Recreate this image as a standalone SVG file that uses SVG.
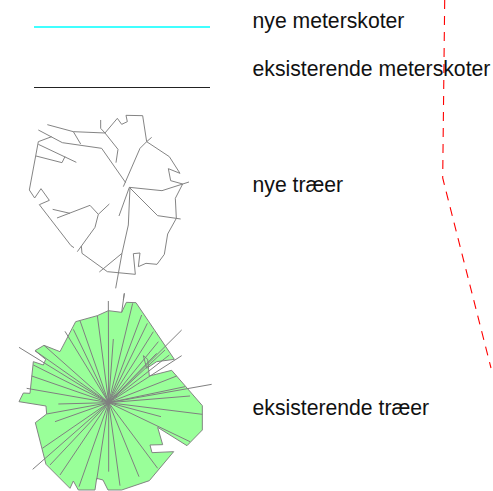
<svg xmlns="http://www.w3.org/2000/svg" width="493" height="491" viewBox="0 0 493 491">
<style>
text{font-family:"Liberation Sans",Arial,sans-serif;font-size:21.2px;fill:#111}
.t{fill:none;stroke:#808080;stroke-width:2.9;stroke-linejoin:round}
.s{fill:none;stroke:#808080;stroke-width:3}
</style>
<rect width="493" height="491" fill="#fff"/>
<g id="connectors">
<line x1="34" y1="27" x2="210" y2="27" stroke="#00ffff" stroke-width="1.4"/>
<line x1="34" y1="87.5" x2="210" y2="87.5" stroke="#222" stroke-width="1"/>
<polyline points="444.7,0 442.7,178 491,368" fill="none" stroke="#ff0000" stroke-width="1.1" stroke-dasharray="9 7"/>
</g>
<g id="label-nye-meterskoter"><text x="252.5" y="28.3">nye meterskoter</text></g>
<g id="label-eksisterende-meterskoter"><text x="252.5" y="75.7">eksisterende meterskoter</text></g>
<g id="label-nye-traeer"><text x="252.5" y="192">nye træer</text></g>
<g id="label-eksisterende-traeer"><text x="252.5" y="414.7">eksisterende træer</text></g>
<g id="nye-traeer" transform="translate(10 90) scale(.33333)">
<path class="t" d="M112 104 190 125 285 129 322 85 335 103 352 95 348 76 398 77 410 155 478 200 510 250 475 236 482 272 518 282 496 325 499 385 473 432 463 493 441 523 408 520 385 530 390 489 370 491 376 553 292 545 216 490 214 468"/>
<path class="t" d="M190 125 212 162M85 120 157 158 275 175 347 278M125 140 85 155 58 300 74 324 93 296 118 331 88 344 183 467 192 473M85 163 199 217M78 198 156 218 165 200M272 90 272 115 285 129 324 178 318 218M425 142 410 155 390 175 340 290M358 292 456 302 537 276M358 292 443 377 512 387M358 292 327 378M360 292 355 405 336 490 317 595M336 490 268 546M343 610 340 630M128 358 180 370M141 384 240 346 265 373 255 412 202 485M265 373 298 342"/>
</g>
<g id="eksisterende-traeer" transform="translate(10 290) scale(.33333)">
<path d="M295 62 335 67 349 37 378 38 493 208 440 215 410 235 400 197 413 208 418 258 485 241 577 347 577 420 531 467 443 412 458 464 420 465 426 488 491 485 418 572 335 600 294 600 279 570 260 565 255 600 205 600 190 573 180 595 108 523 76 398 110 372 108 348 27 335 40 309 60 310 70 215 100 225 107 208 75 182 102 166 150 185 197 95 262 77Z" fill="#99ff99" stroke="#808080" stroke-width="2.9" stroke-linejoin="round"/>
<path class="s" d="M296 338 295 33M335 67 343 10M296 338 310 147M296 338 368 40M296 338 395 75M296 338 412 100M296 338 430 125M296 338 515 120M296 338 445 155M296 338 465 180M296 338 478 195M296 338 515 197M296 338 440 190M296 338 500 258M296 338 525 290M296 338 605 283M296 338 540 318M296 338 577 373M296 338 453 380M296 338 540 455M296 338 443 535M296 338 387 560M296 338 330 587M296 338 296 545M296 338 260 570M296 338 207 590M296 338 150 555M296 338 120 525M296 338 68 538M296 338 97 475M296 338 135 395M296 338 145 342M296 338 110 372M296 338 50 295M296 338 65 258M296 338 70 225M296 338 27 172M296 338 75 182M296 338 102 166M296 338 165 124M296 338 190 118M296 338 210 92M296 338 262 77"/>
</g>
</svg>
